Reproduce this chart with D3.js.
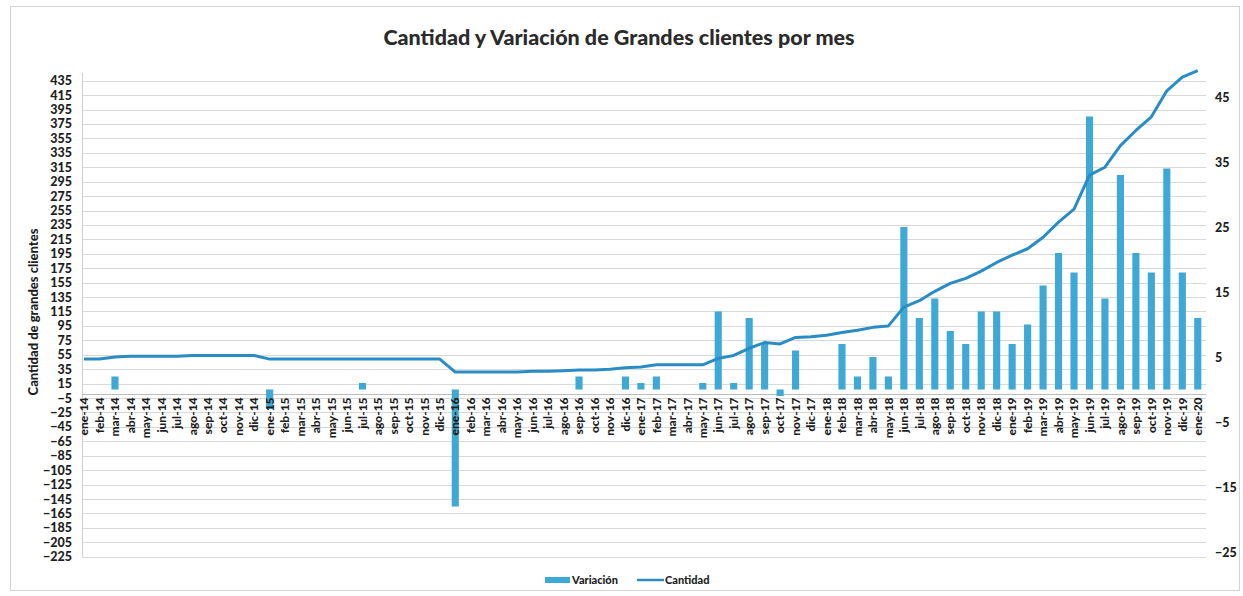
<!DOCTYPE html>
<html>
<head>
<meta charset="utf-8">
<title>Cantidad y Variación de Grandes clientes por mes</title>
<script src="https://cdn.jsdelivr.net/npm/d3@7"></script>
<style>
    body { margin: 0; background: #fff; }
    svg { display: block; font-family: Lato, 'Open Sans', sans-serif; }
    .axis text { font-family: Lato, sans-serif; font-weight: 900; fill: #1e1e1e; }
    .axis path, .axis line { stroke: none; }
</style>
</head>
<body>
<svg></svg>
<script>
const PLOTTITLE = 'Cantidad y Variación de Grandes clientes por mes',
    YLABEL = 'Cantidad de grandes clientes';

var months = [
    'ene-14', 'feb-14', 'mar-14', 'abr-14', 'may-14', 'jun-14', 'jul-14', 'ago-14', 'sep-14', 'oct-14', 'nov-14', 'dic-14',
    'ene-15', 'feb-15', 'mar-15', 'abr-15', 'may-15', 'jun-15', 'jul-15', 'ago-15', 'sep-15', 'oct-15', 'nov-15', 'dic-15',
    'ene-16', 'feb-16', 'mar-16', 'abr-16', 'may-16', 'jun-16', 'jul-16', 'ago-16', 'sep-16', 'oct-16', 'nov-16', 'dic-16',
    'ene-17', 'feb-17', 'mar-17', 'abr-17', 'may-17', 'jun-17', 'jul-17', 'ago-17', 'sep-17', 'oct-17', 'nov-17', 'dic-17',
    'ene-18', 'feb-18', 'mar-18', 'abr-18', 'may-18', 'jun-18', 'jul-18', 'ago-18', 'sep-18', 'oct-18', 'nov-18', 'dic-18',
    'ene-19', 'feb-19', 'mar-19', 'abr-19', 'may-19', 'jun-19', 'jul-19', 'ago-19', 'sep-19', 'oct-19', 'nov-19', 'dic-19',
    'ene-20'
];

// monthly change (right axis)
var variacion = [
    0, 0, 2, 0, 0, 0, 0, 0, 0, 0, 0, 0,
    -3, 0, 0, 0, 0, 0, 1, 0, 0, 0, 0, 0,
    -18, 0, 0, 0, 0, 0, 0, 0, 2, 0, 0, 2,
    1, 2, 0, 0, 1, 12, 1, 11, 7, -1, 6, 0,
    0, 7, 2, 5, 2, 25, 11, 14, 9, 7, 12, 12,
    7, 10, 16, 21, 18, 42, 14, 33, 21, 18, 34, 18,
    11
];

// total customers (left axis)
var cantidad = [
    49, 49, 52, 53, 53, 53, 53, 54, 54, 54, 54, 54,
    49, 49, 49, 49, 49, 49, 49, 49, 49, 49, 49, 49,
    31, 31, 31, 31, 31, 32, 32, 33, 34, 34, 35, 37,
    38, 41, 41, 41, 41, 50, 54, 64, 72, 70, 79, 80,
    82, 86, 89, 93, 95, 121, 130, 143, 154, 161, 171, 183,
    193, 202, 218, 239, 257, 304, 315, 345, 366, 385, 421, 440,
    449
];

var leftTicks = d3.range(-225, 436, 20),
    rightTicks = [-25, -15, -5, 5, 15, 25, 35, 45];

var width = 1243,
    height = 596,
    plot = {left: 82, right: 1206, top: 73, bottom: 557};

document.title = PLOTTITLE;

var svg = d3.select('svg')
    .attr('width', width)
    .attr('height', height);

svg.append('rect')
    .attr('x', 10.5).attr('y', 6.5)
    .attr('width', 1229).attr('height', 584)
    .attr('fill', '#fff')
    .attr('stroke', '#d4d4d4');

var x = d3.scaleBand()
    .domain(months)
    .range([76.3, 1205.5])
    .paddingInner(0.54)
    .paddingOuter(0.27);

var yLeft = d3.scaleLinear()
    .domain([-225, 435])
    .range([556.7, 80.7]);

var yRight = d3.scaleLinear()
    .domain([-25, 45])
    .range([552, 97]);

function cx(m) { return x(m) + x.bandwidth() / 2; }

// gridlines
svg.append('g')
    .selectAll('line')
    .data(leftTicks)
    .enter().append('line')
    .attr('x1', plot.left)
    .attr('x2', plot.right)
    .attr('y1', function(d) { return Math.round(yLeft(d)) + 0.5; })
    .attr('y2', function(d) { return Math.round(yLeft(d)) + 0.5; })
    .attr('stroke', '#d9d9d9');

svg.append('line')
    .attr('x1', plot.left + 0.5).attr('x2', plot.left + 0.5)
    .attr('y1', plot.top).attr('y2', plot.bottom)
    .attr('stroke', '#cfcfcf');

// category axis at zero
svg.append('line')
    .attr('x1', plot.left).attr('x2', plot.right)
    .attr('y1', Math.round(yLeft(0)) + 0.5)
    .attr('y2', Math.round(yLeft(0)) + 0.5)
    .attr('stroke', '#bdbdbd');

// bars
svg.append('g')
    .selectAll('rect')
    .data(variacion)
    .enter().append('rect')
    .attr('x', function(d, i) { return x(months[i]); })
    .attr('width', x.bandwidth())
    .attr('y', function(d) { return yRight(Math.max(0, d)); })
    .attr('height', function(d) { return Math.abs(yRight(d) - yRight(0)); })
    .attr('fill', '#3ea8d6');

// line
var line = d3.line()
    .x(function(d, i) { return cx(months[i]); })
    .y(function(d) { return yLeft(d); });

svg.append('path')
    .datum(cantidad)
    .attr('d', line)
    .attr('fill', 'none')
    .attr('stroke', '#2a8cc4')
    .attr('stroke-width', 3)
    .attr('stroke-linejoin', 'round');

// axes
svg.append('g')
    .attr('class', 'axis')
    .attr('transform', 'translate(' + (plot.left - 8) + ',0)')
    .call(d3.axisLeft(yLeft).tickValues(leftTicks).tickSize(0).tickPadding(2))
    .selectAll('text')
    .style('font-size', '12.5px');

svg.append('g')
    .attr('class', 'axis')
    .attr('transform', 'translate(' + (plot.right + 7) + ',0)')
    .call(d3.axisRight(yRight).tickValues(rightTicks).tickSize(0).tickPadding(2))
    .selectAll('text')
    .style('font-size', '12.5px');

svg.append('g')
    .attr('class', 'axis')
    .attr('transform', 'translate(0,' + (yLeft(0) + 2) + ')')
    .call(d3.axisBottom(x).tickSize(0).tickPadding(0))
    .selectAll('text')
    .style('font-size', '12px')
    .attr('transform', 'rotate(-90)')
    .attr('text-anchor', 'end')
    .attr('x', -1)
    .attr('y', 0)
    .attr('dy', '0.35em');

// titles
svg.append('text')
    .attr('x', 619)
    .attr('y', 45)
    .attr('text-anchor', 'middle')
    .style('font-size', '21.5px')
    .style('font-weight', '900')
    .attr('fill', '#2b2b2b')
    .text(PLOTTITLE);

svg.append('text')
    .attr('transform', 'translate(38,312) rotate(-90)')
    .attr('text-anchor', 'middle')
    .style('font-size', '13px')
    .style('font-weight', '900')
    .attr('fill', '#1e1e1e')
    .text(YLABEL);

// legend
var legend = svg.append('g')
    .attr('transform', 'translate(545,580)');

legend.append('rect')
    .attr('x', 0).attr('y', -3)
    .attr('width', 25).attr('height', 6)
    .attr('fill', '#3ea8d6');

legend.append('text')
    .attr('x', 27).attr('y', 4)
    .style('font-size', '11px')
    .style('font-weight', '900')
    .attr('fill', '#222')
    .text('Variación');

legend.append('line')
    .attr('x1', 92).attr('x2', 119)
    .attr('y1', 0).attr('y2', 0)
    .attr('stroke', '#2a8cc4')
    .attr('stroke-width', 2.5);

legend.append('text')
    .attr('x', 120).attr('y', 4)
    .style('font-size', '11px')
    .style('font-weight', '900')
    .attr('fill', '#222')
    .text('Cantidad');
</script>
</body>
</html>
